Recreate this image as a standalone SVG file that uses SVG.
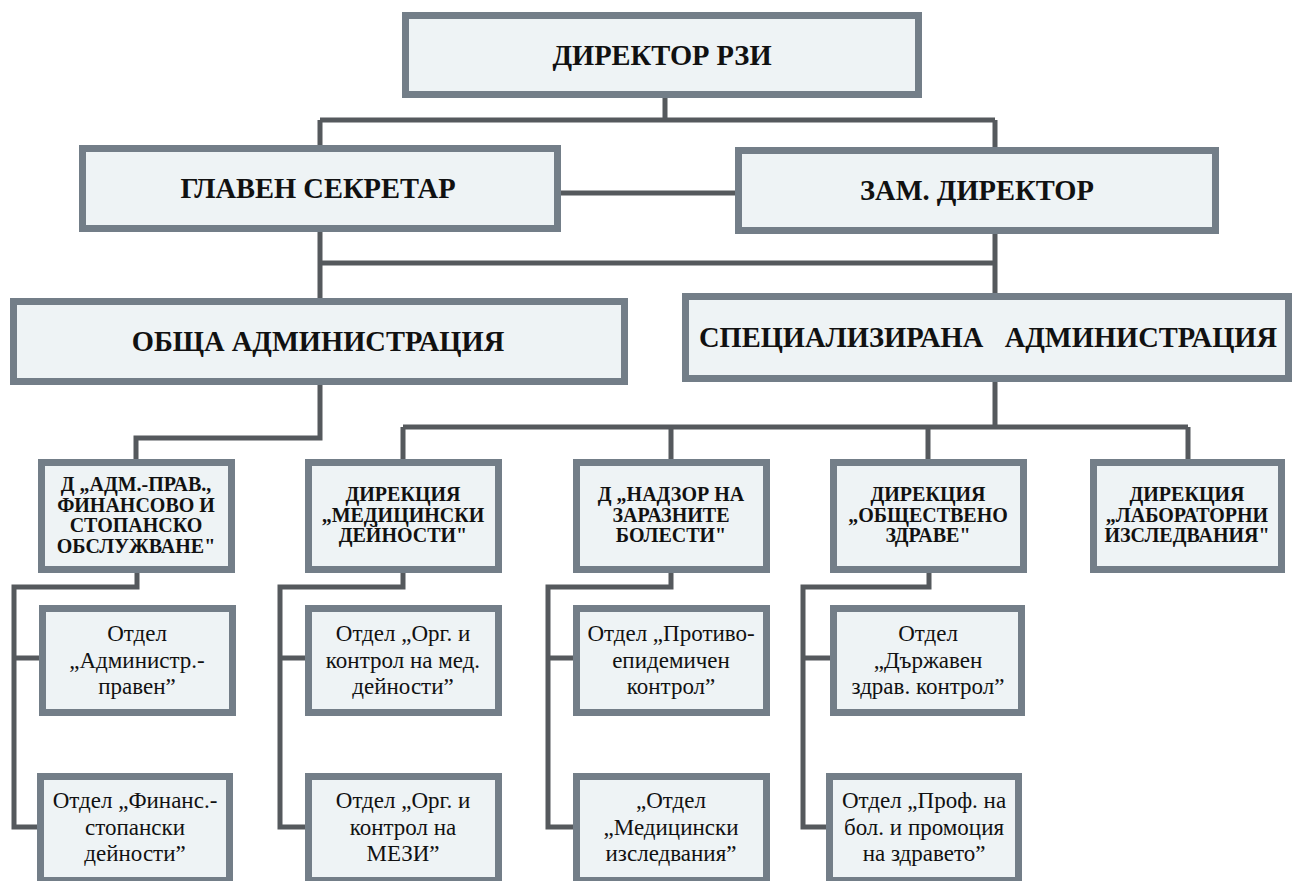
<svg xmlns="http://www.w3.org/2000/svg" width="1293" height="881" viewBox="0 0 1293 881">
<style>
.box{fill:#eef3f5;stroke:#737e88;stroke-width:7}
.con{fill:none;stroke:#55595d;stroke-width:5;stroke-linejoin:miter}
.t1{font-weight:bold;font-size:28.5px}
.t2{font-weight:bold;font-size:20px}
.t3{font-size:23px}
</style>
<rect width="1293" height="881" fill="#ffffff"/>
<g id="connectors">
<path class="con" d="M665 98V120M320 120H995M320 120V145M995 120V147"/>
<path class="con" d="M561 193H735"/>
<path class="con" d="M320 232V298M320 263H995M995 234V293"/>
<path class="con" d="M320 385V438H136V459"/>
<path class="con" d="M995 382V427M403 427H1188M403 427V459M671 427V459M928 427V459M1188 427V459"/>
<path class="con" d="M137 573V587H14V827H37M14 658H39"/>
<path class="con" d="M403 573V587H280V827H305M280 658H305"/>
<path class="con" d="M671 573V587H548V827H573M548 658H573"/>
<path class="con" d="M929 573V587H803V827H826M803 658H830"/>
</g>
<g font-family="'Liberation Serif', 'DejaVu Serif', serif" fill="#111" text-anchor="middle">
<g id="n-director"><rect class="box" x="405.5" y="15.5" width="513" height="79"/><text class="t1" x="662" y="65">ДИРЕКТОР РЗИ</text></g>
<g id="n-secretary"><rect class="box" x="82.5" y="148.5" width="475" height="80"/><text class="t1" x="318" y="198">ГЛАВЕН СЕКРЕТАР</text></g>
<g id="n-deputy"><rect class="box" x="738.5" y="150.5" width="477" height="80"/><text class="t1" x="977" y="200">ЗАМ. ДИРЕКТОР</text></g>
<g id="n-general"><rect class="box" x="13.5" y="301.5" width="611" height="80"/><text class="t1" x="318" y="351">ОБЩА АДМИНИСТРАЦИЯ</text></g>
<g id="n-special"><rect class="box" x="685.5" y="296.5" width="603" height="82"/><text class="t1" x="988" y="347" xml:space="preserve">СПЕЦИАЛИЗИРАНА   АДМИНИСТРАЦИЯ</text></g>
<g id="n-d1"><rect class="box" x="41.5" y="462.5" width="190" height="107"/><text class="t2"><tspan x="136" y="491">Д „АДМ.-ПРАВ.,</tspan><tspan x="136" y="511.5">ФИНАНСОВО И</tspan><tspan x="136" y="532">СТОПАНСКО</tspan><tspan x="136" y="552.5">ОБСЛУЖВАНЕ"</tspan></text></g>
<g id="n-d2"><rect class="box" x="308.5" y="462.5" width="190" height="107"/><text class="t2"><tspan x="403" y="501">ДИРЕКЦИЯ</tspan><tspan x="403" y="521.5">„МЕДИЦИНСКИ</tspan><tspan x="403" y="542">ДЕЙНОСТИ"</tspan></text></g>
<g id="n-d3"><rect class="box" x="576.5" y="462.5" width="190" height="107"/><text class="t2"><tspan x="671" y="501">Д „НАДЗОР НА</tspan><tspan x="671" y="521.5">ЗАРАЗНИТЕ</tspan><tspan x="671" y="542">БОЛЕСТИ"</tspan></text></g>
<g id="n-d4"><rect class="box" x="833.5" y="462.5" width="190" height="107"/><text class="t2"><tspan x="928" y="501">ДИРЕКЦИЯ</tspan><tspan x="928" y="521.5">„ОБЩЕСТВЕНО</tspan><tspan x="928" y="542">ЗДРАВЕ"</tspan></text></g>
<g id="n-d5"><rect class="box" x="1093.5" y="462.5" width="188" height="107"/><text class="t2"><tspan x="1187" y="501">ДИРЕКЦИЯ</tspan><tspan x="1187" y="521.5">„ЛАБОРАТОРНИ</tspan><tspan x="1187" y="542">ИЗСЛЕДВАНИЯ"</tspan></text></g>
<g id="n-s1a"><rect class="box" x="42.5" y="608.5" width="190" height="104"/><text class="t3"><tspan x="137" y="641">Отдел</tspan><tspan x="137" y="667.5">„Администр.-</tspan><tspan x="137" y="694">правен”</tspan></text></g>
<g id="n-s1b"><rect class="box" x="40.5" y="776.5" width="189" height="104"/><text class="t3"><tspan x="135" y="808">Отдел „Финанс.-</tspan><tspan x="135" y="834.5">стопански</tspan><tspan x="135" y="861">дейности”</tspan></text></g>
<g id="n-s2a"><rect class="box" x="308.5" y="608.5" width="190" height="104"/><text class="t3"><tspan x="403" y="641">Отдел „Орг. и</tspan><tspan x="403" y="667.5">контрол на мед.</tspan><tspan x="403" y="694">дейности”</tspan></text></g>
<g id="n-s2b"><rect class="box" x="308.5" y="776.5" width="190" height="104"/><text class="t3"><tspan x="403" y="808">Отдел „Орг. и</tspan><tspan x="403" y="834.5">контрол на</tspan><tspan x="403" y="861">МЕЗИ”</tspan></text></g>
<g id="n-s3a"><rect class="box" x="576.5" y="608.5" width="190" height="104"/><text class="t3"><tspan x="671" y="641">Отдел „Противо-</tspan><tspan x="671" y="667.5">епидемичен</tspan><tspan x="671" y="694">контрол”</tspan></text></g>
<g id="n-s3b"><rect class="box" x="576.5" y="776.5" width="190" height="104"/><text class="t3"><tspan x="671" y="808">„Отдел</tspan><tspan x="671" y="834.5">„Медицински</tspan><tspan x="671" y="861">изследвания”</tspan></text></g>
<g id="n-s4a"><rect class="box" x="833.5" y="608.5" width="188" height="104"/><text class="t3"><tspan x="928" y="641">Отдел</tspan><tspan x="928" y="667.5">„Държавен</tspan><tspan x="928" y="694">здрав. контрол”</tspan></text></g>
<g id="n-s4b"><rect class="box" x="829.5" y="776.5" width="189" height="104"/><text class="t3"><tspan x="924" y="808">Отдел „Проф. на</tspan><tspan x="924" y="834.5">бол. и промоция</tspan><tspan x="924" y="861">на здравето”</tspan></text></g>
</g>
</svg>
